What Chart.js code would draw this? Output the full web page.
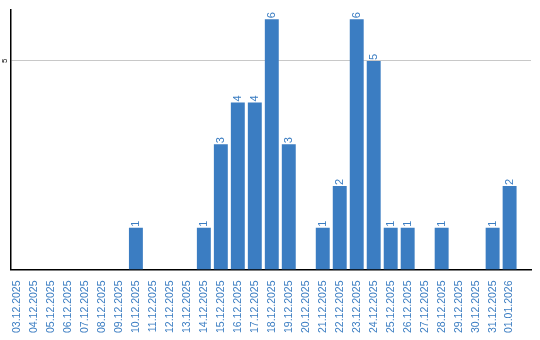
<!DOCTYPE html>
<html>
<head>
<meta charset="utf-8">
<script src="https://cdn.jsdelivr.net/npm/chart.js@4"></script>
<style>
  body { margin: 0; background: #fff; }
  #wrap { width: 540px; height: 340px; }
</style>
</head>
<body>
<div id="wrap"><canvas id="chart"></canvas></div>
<script>
const days = [
    '03.12.2025', '04.12.2025', '05.12.2025', '06.12.2025', '07.12.2025',
    '08.12.2025', '09.12.2025', '10.12.2025', '11.12.2025', '12.12.2025',
    '13.12.2025', '14.12.2025', '15.12.2025', '16.12.2025', '17.12.2025',
    '18.12.2025', '19.12.2025', '20.12.2025', '21.12.2025', '22.12.2025',
    '23.12.2025', '24.12.2025', '25.12.2025', '26.12.2025', '27.12.2025',
    '28.12.2025', '29.12.2025', '30.12.2025', '31.12.2025', '01.01.2026'
]
const counts = [
    0, 0, 0, 0, 0,
    0, 0, 1, 0, 0,
    0, 1, 3, 4, 4,
    6, 3, 0, 1, 2,
    6, 5, 1, 1, 0,
    1, 0, 0, 1, 2
]
const yTicks = [5]

const blue = '#3b7dc2'
const font = '"Liberation Sans", Arial, sans-serif'

// the day bands stop a bit short of the right end of the grid
const bandShift = {
    id: 'bandShift',
    afterLayout(chart) {
        const xs = chart.scales.x
        xs._startPixel = xs.left - 2.5
        xs._endPixel = xs._startPixel + (xs.right - xs.left) * 0.98
        xs._length = xs._endPixel - xs._startPixel
    }
}

// value labels above each bar, turned like the day labels,
// plus the turned y tick labels left of the axis
const textLabels = {
    id: 'textLabels',
    afterDatasetsDraw(chart) {
        const ctx = chart.ctx
        const meta = chart.getDatasetMeta(0)
        ctx.save()
        ctx.fillStyle = blue
        ctx.font = '11px ' + font
        ctx.textAlign = 'left'
        ctx.textBaseline = 'middle'
        meta.data.forEach((bar, i) => {
            if (!counts[i]) return
            ctx.save()
            ctx.translate(bar.x, bar.y - 1)
            ctx.rotate(-Math.PI / 2)
            ctx.fillText(String(counts[i]), 0, 0)
            ctx.restore()
        })

        const ys = chart.scales.y
        ctx.fillStyle = '#000'
        ctx.font = '8px ' + font
        ctx.textAlign = 'center'
        yTicks.forEach(v => {
            ctx.save()
            ctx.translate(ys.right - 6, ys.getPixelForValue(v))
            ctx.rotate(-Math.PI / 2)
            ctx.fillText(String(v), 0, 0)
            ctx.restore()
        })
        ctx.restore()
    }
}

new Chart(document.getElementById('chart'), {
    type: 'bar',
    data: {
        labels: days,
        datasets: [{
            data: counts,
            backgroundColor: blue,
            barPercentage: 0.82,
            categoryPercentage: 1
        }]
    },
    options: {
        responsive: true,
        maintainAspectRatio: false,
        animation: false,
        layout: { padding: { top: 10, right: 9, left: 0, bottom: 4 } },
        plugins: { legend: { display: false }, tooltip: { enabled: false } },
        scales: {
            x: {
                grid: { display: false },
                border: { color: '#000', width: 1.5 },
                ticks: {
                    color: blue,
                    font: { size: 10.5, family: font },
                    minRotation: 90,
                    maxRotation: 90,
                    autoSkip: false,
                    padding: 3
                }
            },
            y: {
                min: 0,
                max: 6.22,
                afterBuildTicks(axis) {
                    axis.ticks = yTicks.map(v => ({ value: v }))
                },
                afterFit(axis) {
                    axis.width = 11
                },
                grid: { color: '#c8c8c8', drawTicks: false },
                border: { color: '#000', width: 1.5 },
                ticks: { display: false }
            }
        }
    },
    plugins: [bandShift, textLabels]
})
</script>
</body>
</html>
